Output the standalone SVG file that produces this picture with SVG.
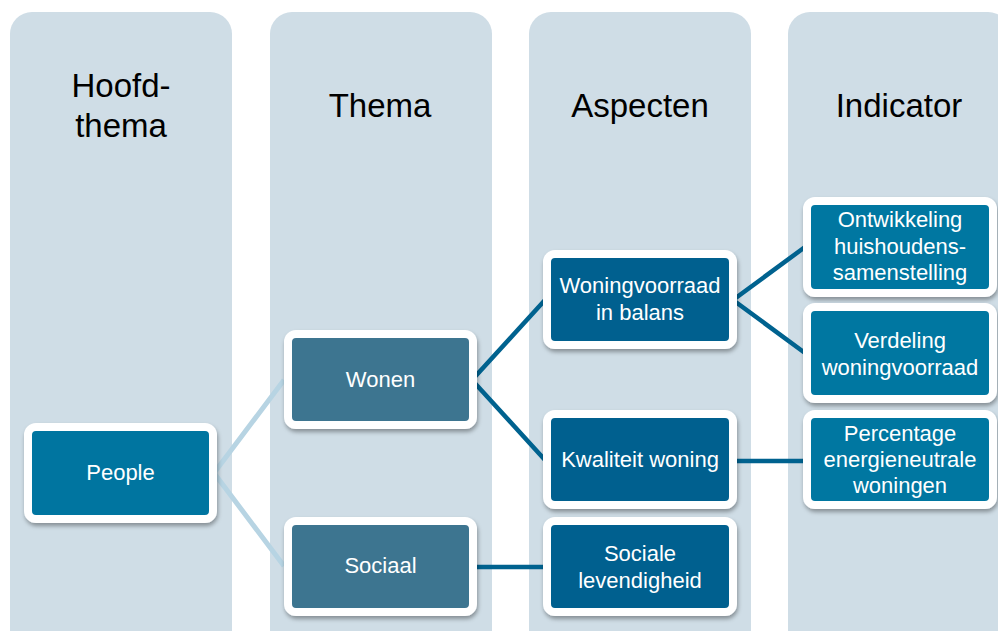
<svg xmlns="http://www.w3.org/2000/svg" width="998" height="631" viewBox="0 0 998 631">
<defs>
<filter id="sh" x="-10%" y="-10%" width="125%" height="130%">
<feDropShadow dx="1" dy="3" stdDeviation="2" flood-color="#000" flood-opacity="0.35"/>
</filter>
<style>
.col{fill:#CFDDE6}
.hdr{font-family:"Liberation Sans",Arial,sans-serif;font-size:33px;fill:#000;text-anchor:middle}
.node rect{stroke:#fff;stroke-width:8;filter:url(#sh)}
.node text{font-family:"Liberation Sans",Arial,sans-serif;font-size:22px;fill:#fff;text-anchor:middle}
.l1 rect{fill:#0075A0}
.l2 rect{fill:#3E7490}
.l3 rect{fill:#00618F}
.l4 rect{fill:#0077A1}
.light{stroke:#B7D4E3;stroke-width:5;fill:none}
.dark{stroke:#00628F;stroke-width:4.5;fill:none}
</style>
</defs>
<rect width="998" height="631" fill="#fff"/>
<g id="columns">
<rect class="col" x="10" y="12" width="222" height="640" rx="22"/>
<rect class="col" x="270" y="12" width="222" height="640" rx="22"/>
<rect class="col" x="529" y="12" width="222" height="640" rx="22"/>
<rect class="col" x="788" y="12" width="222" height="640" rx="22"/>
<text class="hdr" x="121" y="97">Hoofd-</text>
<text class="hdr" x="121" y="137">thema</text>
<text class="hdr" x="380" y="117">Thema</text>
<text class="hdr" x="640" y="117">Aspecten</text>
<text class="hdr" x="899" y="117">Indicator</text>
</g>
<g id="connectors">
<polyline class="light" points="284,380 214,473 284,566"/>
<polyline class="dark" points="545,300 472,380 545,460"/>
<line class="dark" x1="472" y1="567" x2="545" y2="567"/>
<polyline class="dark" points="805,247 733,300 805,353"/>
<line class="dark" x1="733" y1="461" x2="805" y2="461"/>
</g>
<g id="people" class="node l1">
<rect x="28" y="427" width="185" height="92" rx="8"/>
<text x="120.5" y="480">People</text>
</g>
<g id="wonen" class="node l2">
<rect x="288" y="334" width="185" height="91" rx="8"/>
<text x="380.5" y="387">Wonen</text>
</g>
<g id="sociaal" class="node l2">
<rect x="288" y="521" width="185" height="91" rx="8"/>
<text x="380.5" y="573">Sociaal</text>
</g>
<g id="woningvoorraad" class="node l3">
<rect x="547" y="254" width="186" height="91" rx="8"/>
<text x="640" y="293">Woningvoorraad</text>
<text x="640" y="320">in balans</text>
</g>
<g id="kwaliteit" class="node l3">
<rect x="547" y="414" width="186" height="91" rx="8"/>
<text x="640" y="467">Kwaliteit woning</text>
</g>
<g id="sociale" class="node l3">
<rect x="547" y="521" width="186" height="91" rx="8"/>
<text x="640" y="561">Sociale</text>
<text x="640" y="588">levendigheid</text>
</g>
<g id="ontwikkeling" class="node l4">
<rect x="807" y="201" width="186" height="92" rx="8"/>
<text x="900" y="227">Ontwikkeling</text>
<text x="900" y="254">huishoudens-</text>
<text x="900" y="280">samenstelling</text>
</g>
<g id="verdeling" class="node l4">
<rect x="807" y="307" width="186" height="92" rx="8"/>
<text x="900" y="348">Verdeling</text>
<text x="900" y="375">woningvoorraad</text>
</g>
<g id="percentage" class="node l4">
<rect x="807" y="414" width="186" height="91" rx="8"/>
<text x="900" y="441">Percentage</text>
<text x="900" y="467">energieneutrale</text>
<text x="900" y="493">woningen</text>
</g>
</svg>
